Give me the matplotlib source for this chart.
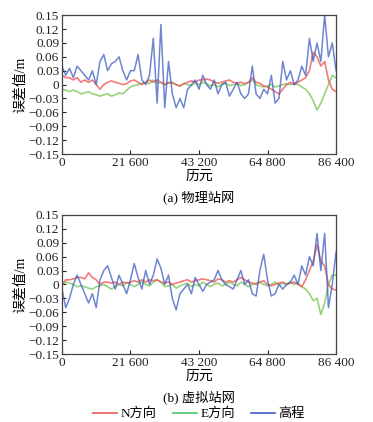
import numpy as np
import matplotlib
matplotlib.use('Agg')
import matplotlib.pyplot as plt

plt.rcParams['font.family'] = ['Liberation Serif', 'Noto Sans CJK SC']
plt.rcParams['axes.unicode_minus'] = True

# epochs sampled every 1200 s over one day
epochs = np.arange(0, 86401, 1200)

# (a) physical network
n_a = [0.02, 0.015, 0.015, 0.01, 0.015, 0.005, 0.01, 0.005, 0.01, 0.0,
       -0.01, 0.0, 0.005, 0.008, 0.005, 0.003, 0.0, 0.002, 0.008, 0.01,
       0.005, 0.0, 0.005, 0.01, 0.005, 0.01, 0.005, 0.0, 0.005, 0.003,
       0.0, -0.003, 0.002, 0.005, 0.008, 0.005, 0.01, 0.01, 0.012, 0.01,
       0.005, 0.003, 0.005, 0.008, 0.01, 0.005, 0.003, 0.005, 0.002, 0.005,
       0.015, 0.005, 0.003, -0.003, -0.005, -0.01, -0.015, -0.02, -0.01, 0.0,
       0.005, 0.0, 0.005, 0.01, 0.015, 0.03, 0.07, 0.06, 0.04, 0.05,
       0.01, -0.01, -0.015]
e_a = [-0.01, -0.012, -0.015, -0.012, -0.015, -0.02, -0.018, -0.015, -0.02, -0.022,
       -0.025, -0.022, -0.02, -0.025, -0.022, -0.018, -0.02, -0.012, -0.005, -0.002,
       0.0, 0.003, 0.005, 0.002, 0.01, 0.003, 0.005, 0.0, 0.003, 0.005,
       0.0, -0.003, 0.002, 0.0, -0.002, 0.003, 0.0, 0.005, 0.002, -0.003,
       0.0, -0.005, 0.0, 0.003, -0.002, 0.0, 0.002, -0.002, 0.0, 0.005,
       0.01, 0.0, -0.003, -0.005, -0.003, 0.0, -0.005, -0.003, 0.0, 0.002,
       0.0, 0.003, 0.0, -0.005, -0.01, -0.02, -0.035, -0.055, -0.04, -0.02,
       0.0, 0.02, 0.015]
h_a = [0.04, 0.02, 0.035, 0.015, 0.04, 0.03, 0.02, 0.01, 0.03, 0.0,
       0.05, 0.065, 0.03, 0.045, 0.05, 0.06, 0.03, 0.01, 0.03, 0.03,
       0.065, 0.01, 0.0, 0.02, 0.10, -0.04, 0.13, -0.05, 0.05, -0.02,
       -0.05, -0.03, -0.05, -0.01, 0.0, 0.01, -0.01, 0.02, 0.0, -0.01,
       0.01, -0.02, 0.0, 0.005, -0.025, -0.01, 0.005, -0.02, -0.03, -0.02,
       0.04, -0.02, -0.03, -0.01, -0.02, 0.02, -0.04, -0.03, 0.05, 0.01,
       0.03, 0.0, 0.01, 0.04, 0.02, 0.10, 0.05, 0.09, 0.05, 0.15,
       0.06, 0.09, 0.03]

# (b) virtual network
n_b = [0.0, 0.01, 0.01, 0.012, 0.015, 0.015, 0.012, 0.025, 0.015, 0.01,
       0.0, 0.005, 0.005, 0.003, 0.005, 0.0, 0.005, 0.003, 0.005, 0.008,
       0.005, 0.01, 0.005, 0.01, 0.008, 0.01, 0.005, 0.003, 0.005, 0.0,
       0.003, 0.005, 0.008, 0.01, 0.005, 0.008, 0.01, 0.012, 0.01, 0.008,
       0.005, 0.012, 0.01, 0.005, 0.008, 0.005, 0.01, 0.015, 0.01, 0.005,
       0.003, 0.0, 0.005, 0.008, 0.0, -0.003, 0.0, 0.003, 0.005, 0.0,
       0.003, 0.005, 0.0, -0.005, 0.01, 0.03, 0.05, 0.085, 0.05, 0.04,
       0.0, -0.01, -0.012]
e_b = [0.0, 0.005, 0.003, 0.0, -0.005, -0.003, -0.005, -0.008, -0.01, -0.005,
       -0.003, 0.0, -0.005, -0.01, -0.005, 0.0, -0.003, 0.005, 0.0, -0.005,
       0.0, 0.005, 0.0, -0.003, 0.005, 0.01, 0.005, -0.005, -0.003, 0.0,
       -0.008, -0.003, 0.0, 0.003, -0.005, 0.0, -0.003, 0.005, 0.0, -0.005,
       0.0, 0.003, -0.003, 0.0, 0.005, 0.0, -0.003, 0.005, 0.0, -0.005,
       0.0, 0.003, 0.005, 0.0, -0.003, 0.0, 0.005, 0.0, 0.003, 0.0,
       0.005, 0.0, 0.003, -0.005, -0.01, -0.02, -0.035, -0.03, -0.065, -0.04,
       0.0, 0.02, 0.02]
h_b = [-0.01, -0.05, -0.03, 0.0, 0.02, 0.0, -0.02, -0.04, -0.02, -0.05,
       0.01, 0.03, 0.04, 0.015, -0.01, 0.02, 0.0, -0.02, 0.01, 0.045,
       0.015, -0.01, 0.03, 0.0, 0.02, 0.055, 0.035, 0.0, 0.02, -0.03,
       -0.055, -0.02, -0.01, 0.0, -0.02, 0.015, 0.0, -0.015, 0.0, 0.005,
       0.01, 0.03, 0.01, 0.0, -0.005, -0.01, 0.01, 0.03, 0.0, 0.01,
       -0.02, -0.025, 0.03, 0.065, 0.01, -0.025, -0.02, 0.0, -0.01, 0.0,
       0.005, 0.02, 0.0, 0.04, 0.02, 0.06, 0.04, 0.11, 0.03, 0.11,
       -0.05, 0.0, 0.07]

xticks = [0, 21600, 43200, 64800, 86400]
xticklabels = ['0', '21 600', '43 200', '64 800', '86 400']
yticks = [0.15, 0.12, 0.09, 0.06, 0.03, 0, -0.03, -0.06, -0.09, -0.12, -0.15]
yticklabels = ['0.15', '0.12', '0.09', '0.06', '0.03', '0',
               '\u22120.03', '\u22120.06', '\u22120.09', '\u22120.12', '\u22120.15']

names = ['N方向', 'E方向', '高程']
colors = ['#f05a5a', '#4cc36a', '#3e5cc0']
captions = ['(a) 物理站网', '(b) 虚拟站网']

fig = plt.figure(figsize=(3.73, 4.22), dpi=100)
ax_a = fig.add_axes([0.166, 0.635, 0.735, 0.329])
ax_b = fig.add_axes([0.166, 0.161, 0.735, 0.330])

panels = [(ax_a, n_a, e_a, h_a), (ax_b, n_b, e_b, h_b)]
for k, (ax, n, e, h) in enumerate(panels):
    ax.plot(epochs, e, color='#7cc85a', lw=1.2, alpha=0.8)
    ax.plot(epochs, n, color=colors[0], lw=1.2, alpha=0.8)
    ax.plot(epochs, h, color=colors[2], lw=1.1, alpha=0.75)
    ax.set_xlim(0, 86400)
    ax.set_ylim(-0.15, 0.15)
    ax.set_xticks(xticks)
    ax.set_xticklabels(xticklabels, fontsize=9.5)
    ax.set_yticks(yticks)
    ax.set_yticklabels(yticklabels, fontsize=9.5)
    ax.tick_params(direction='in', length=3, width=0.8, pad=2, colors='#222222')
    for sp in ax.spines.values():
        sp.set_color('#444444')
        sp.set_linewidth(0.9)
    ax.set_ylabel('误差值/m', fontsize=10, labelpad=1)
    ax.set_xlabel('历元', fontsize=10, labelpad=1)

fig.text(0.534, 0.531, captions[0], ha='center', va='center', fontsize=9.5)
fig.text(0.534, 0.059, captions[1], ha='center', va='center', fontsize=9.5)

handles = [plt.Line2D([], [], color=c, lw=1.2) for c in colors]
fig.legend(handles, names, loc='center', bbox_to_anchor=(0.534, 0.019), ncol=3,
           frameon=False, fontsize=9.5, handlelength=1.8, handletextpad=0.3,
           columnspacing=1.2, borderpad=0)

fig.savefig('out.png', dpi=100)
